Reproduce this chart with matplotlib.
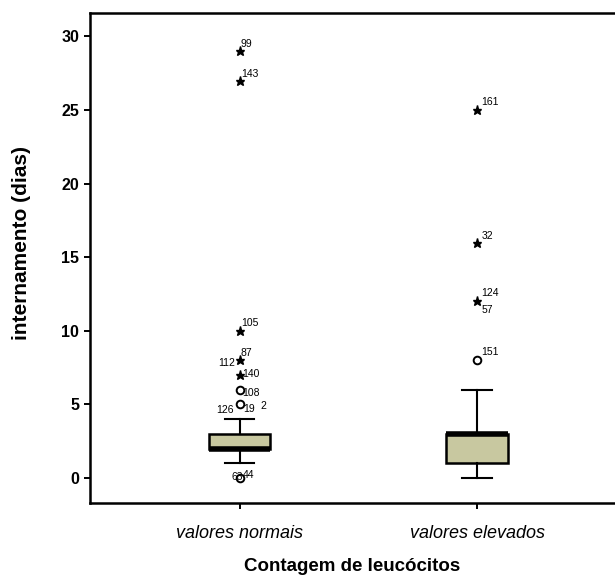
import matplotlib
matplotlib.use("Agg")
import matplotlib.pyplot as plt

plt.rcParams['font.family'] = ['Liberation Sans', 'DejaVu Sans']

categories = ["valores normais", "valores elevados"]
# box statistics (days)
whislo = [1, 0]
q1 = [2, 1]
med = [2, 3]
q3 = [3, 3]
whishi = [4, 6]

# outliers: (value, case labels)
mild_outliers = [
    [(6, ["108"]), (5, ["19", "126", "2"]), (0, ["63", "44"])],
    [(8, ["151"])],
]
extreme_outliers = [
    [(29, ["99"]), (27, ["143"]), (10, ["105"]), (8, ["87", "112"]), (7, ["140"])],
    [(25, ["161"]), (16, ["32"]), (12, ["124", "57"])],
]
yticks = [0, 5, 10, 15, 20, 25, 30]

fig = plt.figure(figsize=(6.15, 5.83), dpi=100)
ax = fig.add_axes([0.146, 0.137, 0.854, 0.841])

positions = [1, 2]
stats = []
for i in range(2):
    stats.append(dict(med=med[i], q1=q1[i], q3=q3[i], whislo=whislo[i], whishi=whishi[i], fliers=[]))

ax.bxp(stats, positions=positions, widths=0.26, patch_artist=True, showfliers=False,
       boxprops=dict(facecolor='#c8c8a0', edgecolor='black', linewidth=1.8),
       medianprops=dict(color='black', linewidth=4, solid_capstyle='butt'),
       whiskerprops=dict(color='black', linewidth=1.5),
       capprops=dict(color='black', linewidth=1.5), capwidths=0.125)

# label offsets in points for each case label
offsets = {
    "99": (1, 5, 'left'), "143": (1, 5, 'left'), "105": (1, 6, 'left'),
    "87": (1, 5, 'left'), "112": (-3, -2, 'right'), "140": (2, 1, 'left'),
    "108": (2, -2, 'left'), "19": (3, -3, 'left'), "126": (-4, -4, 'right'), "2": (15, -1, 'left'),
    "63": (-6, 1, 'left'), "44": (2, 2, 'left'),
    "161": (3, 6, 'left'), "32": (3, 5, 'left'), "124": (3, 6, 'left'), "57": (3, -6, 'left'),
    "151": (3, 6, 'left'),
}

for i, pos in enumerate(positions):
    for val, labs in extreme_outliers[i]:
        ax.plot(pos, val, marker='*', color='black', markersize=6.5, linestyle='none')
        for lab in labs:
            dx, dy, ha = offsets[lab]
            ax.annotate(lab, (pos, val), xytext=(dx, dy), textcoords='offset points',
                        fontsize=7.5, ha=ha, va='center')
    for val, labs in mild_outliers[i]:
        ax.plot(pos, val, marker='o', markerfacecolor='white', markeredgecolor='black',
                markeredgewidth=1.4, markersize=5.5, linestyle='none')
        for lab in labs:
            dx, dy, ha = offsets[lab]
            ax.annotate(lab, (pos, val), xytext=(dx, dy), textcoords='offset points',
                        fontsize=7.5, ha=ha, va='center')

ax.set_xlim(0.37, 2.58)
ax.set_ylim(-1.7, 31.6)
ax.set_yticks(yticks)
ax.set_yticklabels([str(t) for t in yticks], fontsize=11.5, fontweight='bold')
ax.set_xticks(positions)
ax.set_xticklabels(categories, fontsize=13, style='italic')
ax.set_ylabel("internamento (dias)", fontsize=15, fontweight='bold')
ax.yaxis.set_label_coords(-0.112, 0.531)
ax.set_xlabel("Contagem de leucócitos", fontsize=13.5, fontweight='bold', labelpad=11)

for s in ['left', 'bottom', 'top']:
    ax.spines[s].set_linewidth(1.8)
ax.spines['right'].set_visible(False)
ax.tick_params(axis='both', width=1.4, length=4, color='black')
ax.tick_params(axis='x', pad=12)

fig.savefig("out.png", dpi=100)
